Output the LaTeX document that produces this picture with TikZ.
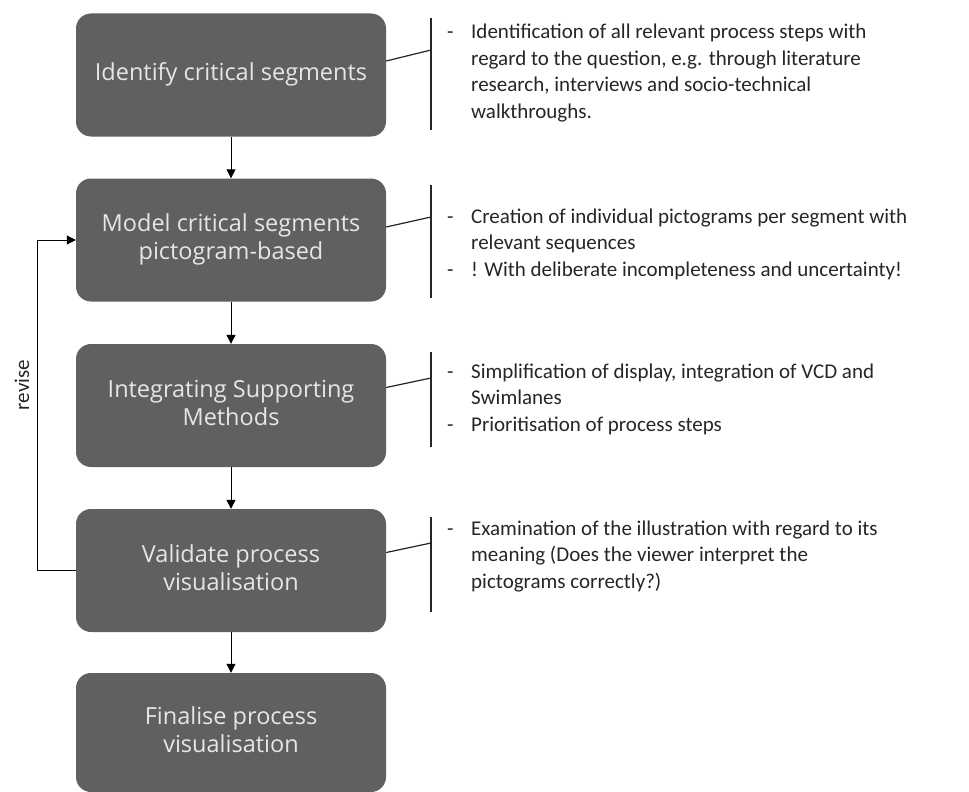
\documentclass[tikz,border=0pt]{standalone}
\usepackage{fontspec}
\usepackage{array}
\setmainfont{Carlito}
\newfontfamily\boxfont{Open Sans}
\usetikzlibrary{arrows.meta}
\definecolor{boxgray}{RGB}{96,96,96}
\definecolor{boxtext}{RGB}{230,230,230}
\definecolor{linegray}{RGB}{40,36,34}
\definecolor{notetext}{RGB}{38,38,38}
% two-line box captions, lifted slightly above the box centre
\newcommand{\steplabel}[1]{\raisebox{5pt}{\begin{tabular}{@{}c@{}}#1\end{tabular}}}
\tikzset{
  stepbox/.style={draw=none, fill=boxgray, rounded corners=15pt,
    minimum width=310pt, minimum height=123pt, inner sep=0pt,
    text=boxtext, font=\boxfont\fontsize{23.5}{28}\selectfont},
  flow/.style={draw=black, line width=1pt, -{Triangle[length=9pt,width=9pt]}},
  brace/.style={draw=linegray, line width=1.2pt},
  note/.style={anchor=base west, inner sep=0pt, text=notetext,
    font=\fontsize{21}{26.5}\selectfont},
}
\newcommand{\notelines}[1]{\begin{tabular}[t]{@{}p{24pt}@{}l@{}}#1\end{tabular}}
\begin{document}
\begin{tikzpicture}[x=1pt, y=-1pt]
\useasboundingbox (0,0) rectangle (969,792);
\fill[white] (0,0) rectangle (969,792);

% process steps
\node[stepbox] (b1) at (231,75)    {\steplabel{Identify critical segments}};
\node[stepbox] (b2) at (231,240)   {\steplabel{Model critical segments\\pictogram-based}};
\node[stepbox] (b3) at (231,405.5) {\steplabel{Integrating Supporting\\Methods}};
\node[stepbox] (b4) at (231,570.5) {\steplabel{Validate process\\visualisation}};
\begin{scope}
\clip (0,0) rectangle (969,792);
\node[stepbox, minimum height=119pt] (b5) at (231,732.5) {\steplabel{Finalise process\\visualisation}};
\end{scope}

% main flow
\draw[flow] (b1) -- (b2);
\draw[flow] (b2) -- (b3);
\draw[flow] (b3) -- (b4);
\draw[flow] (b4) -- (b5);

% feedback loop
\coordinate (loop) at (37,570.5);
\draw[flow] (b4.west) -- (loop) |- (b2.west);
\node[rotate=90, font=\fontsize{21}{24}\selectfont, text=notetext] (rev) at (22,385) {revise};

% brackets joined to the steps
\foreach \i/\ya/\yb/\yc/\off in {1/18/130/50/14, 2/185/298/217/13, 3/352/447/378/18, 4/517/612/543/18} {
  \coordinate (t\i) at (431,\ya);
  \coordinate (u\i) at (431,\yb);
  \coordinate (c\i) at (431,\yc);
  \draw[brace] (t\i) -- (u\i);
  \draw[brace] ([yshift=\off pt]b\i.east) -- (c\i);
}

% notes
\node[note] (n1) at (447,39) {\notelines{
- & Identification of all relevant process steps with\\
  & regard to the question, e.g. through literature\\
  & research, interviews and socio-technical\\
  & walkthroughs.}};

\node[note] (n2) at (447,223) {\notelines{
- & Creation of individual pictograms per segment with\\
  & relevant sequences\\
- & ! With deliberate incompleteness and uncertainty!}};

\node[note] (n3) at (447,378) {\notelines{
- & Simplification of display, integration of VCD and\\
  & Swimlanes\\
- & Prioritisation of process steps}};

\node[note] (n4) at (447,535) {\notelines{
- & Examination of the illustration with regard to its\\
  & meaning (Does the viewer interpret the\\
  & pictograms correctly?)}};
\end{tikzpicture}
\end{document}
